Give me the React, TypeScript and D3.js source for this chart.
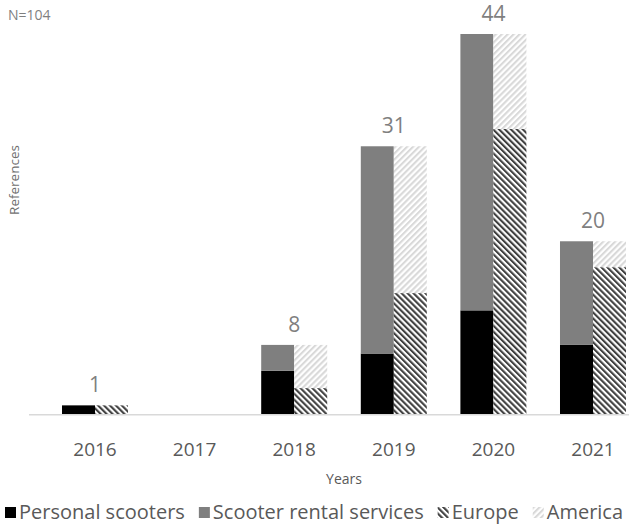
import React, { useEffect, useRef } from 'react';
import * as d3 from 'd3';

// Values
const years = ['2016', '2017', '2018', '2019', '2020', '2021'];
const personalScooters = [1, 0, 5, 7, 12, 8];
const rentalServices = [0, 0, 3, 24, 32, 12];
const europe = [1, 0, 3, 14, 33, 17];
const america = [0, 0, 5, 17, 11, 3];
const legendLabels = ['Personal scooters', 'Scooter rental services', 'Europe', 'America'];
const sampleNote = 'N=104';

const W = 629;
const H = 524;

const App: React.FC = () => {
  const svgRef = useRef<SVGSVGElement>(null);

  useEffect(() => {
    if (!svgRef.current) return;
    const svg = d3.select(svgRef.current);
    svg.selectAll('*').remove();
    const font = '"Open Sans", sans-serif';

    // Hatch patterns
    const defs = svg.append('defs');
    const addHatch = (id: string, color: string, angle: number) => {
      const s = 4.2;
      const p = defs.append('pattern')
        .attr('id', id)
        .attr('patternUnits', 'userSpaceOnUse')
        .attr('width', s).attr('height', s)
        .attr('patternTransform', `rotate(${angle})`);
      p.append('rect').attr('width', s).attr('height', s).attr('fill', '#fff');
      p.append('rect').attr('width', s / 2).attr('height', s).attr('fill', color);
    };
    addHatch('hatch-europe', '#404040', -45);
    addHatch('hatch-america', '#d9d9d9', 45);

    const fills: Record<string, string> = {
      personal: '#000000',
      rental: '#7f7f7f',
      europe: 'url(#hatch-europe)',
      america: 'url(#hatch-america)',
    };

    const rows = years.map((year, i) => ({
      year,
      personal: personalScooters[i],
      rental: rentalServices[i],
      europe: europe[i],
      america: america[i],
    }));
    type Row = typeof rows[number];

    // Scales
    const x = d3.scaleBand<string>()
      .domain(years)
      .range([45.2, 642.8])
      .paddingInner(0.3373)
      .paddingOuter(0.16865);
    const x1 = d3.scaleBand<string>()
      .domain(['mode', 'region'])
      .range([0, x.bandwidth()]);
    const y = d3.scaleLinear().domain([0, 44]).range([414, 34]);

    const groups: { key: string; keys: string[] }[] = [
      { key: 'mode', keys: ['personal', 'rental'] },
      { key: 'region', keys: ['europe', 'america'] },
    ];

    groups.forEach(g => {
      const stacked = d3.stack<Row>().keys(g.keys)(rows);
      svg.append('g')
        .selectAll('g')
        .data(stacked)
        .join('g')
        .attr('fill', d => fills[d.key])
        .selectAll('rect')
        .data(d => d)
        .join('rect')
        .attr('x', d => (x(d.data.year) ?? 0) + (x1(g.key) ?? 0))
        .attr('width', x1.bandwidth())
        .attr('y', d => y(d[1]))
        .attr('height', d => y(d[0]) - y(d[1]));
    });

    // Baseline
    svg.append('line')
      .attr('x1', 29).attr('x2', W)
      .attr('y1', y(0) + 0.75).attr('y2', y(0) + 0.75)
      .attr('stroke', '#d9d9d9')
      .attr('stroke-width', 1.5);

    // X axis labels
    const xAxis = svg.append('g')
      .attr('transform', `translate(0,${y(0)})`)
      .call(d3.axisBottom(x).tickSize(0));
    xAxis.select('.domain').remove();
    xAxis.selectAll('text')
      .attr('y', 42)
      .attr('dy', 0)
      .attr('fill', '#595959')
      .style('font-family', font)
      .style('font-size', '19px');

    // Totals above bars
    svg.append('g')
      .selectAll('text')
      .data(rows.filter(d => d.personal + d.rental > 0))
      .join('text')
      .attr('x', d => (x(d.year) ?? 0) + x.bandwidth() / 2)
      .attr('y', d => y(d.personal + d.rental) - 13)
      .attr('text-anchor', 'middle')
      .attr('fill', '#7f7f7f')
      .style('font-family', font)
      .style('font-size', '21px')
      .text(d => d.personal + d.rental);

    // Titles
    svg.append('text')
      .attr('x', 344).attr('y', 484)
      .attr('text-anchor', 'middle')
      .attr('fill', '#595959')
      .style('font-family', font)
      .style('font-size', '14px')
      .text('Years');

    svg.append('text')
      .attr('transform', 'translate(19,180) rotate(-90)')
      .attr('text-anchor', 'middle')
      .attr('fill', '#6f6f6f')
      .style('font-family', font)
      .style('font-size', '13.5px')
      .text('References');

    svg.append('text')
      .attr('x', 8).attr('y', 20)
      .attr('fill', '#7f7f7f')
      .style('font-family', font)
      .style('font-size', '14px')
      .text(sampleNote);

    // Legend
    const legendKeys = ['personal', 'rental', 'europe', 'america'];
    const legend = svg.append('g');
    let lx = 5;
    legendKeys.forEach((k, i) => {
      legend.append('rect')
        .attr('x', lx).attr('y', 507)
        .attr('width', 11).attr('height', 11)
        .attr('fill', fills[k]);
      const t = legend.append('text')
        .attr('x', lx + 14).attr('y', 519)
        .attr('fill', '#595959')
        .style('font-family', font)
        .style('font-size', '20px')
        .text(legendLabels[i]);
      const w = (t.node() as SVGTextElement).getComputedTextLength();
      lx += 14 + w + 14;
    });
  }, []);

  return (
    <svg
      ref={svgRef}
      width={W}
      height={H}
      style={{ position: 'absolute', left: 0, top: 0, background: '#fff' }}
    />
  );
};

export default App;
